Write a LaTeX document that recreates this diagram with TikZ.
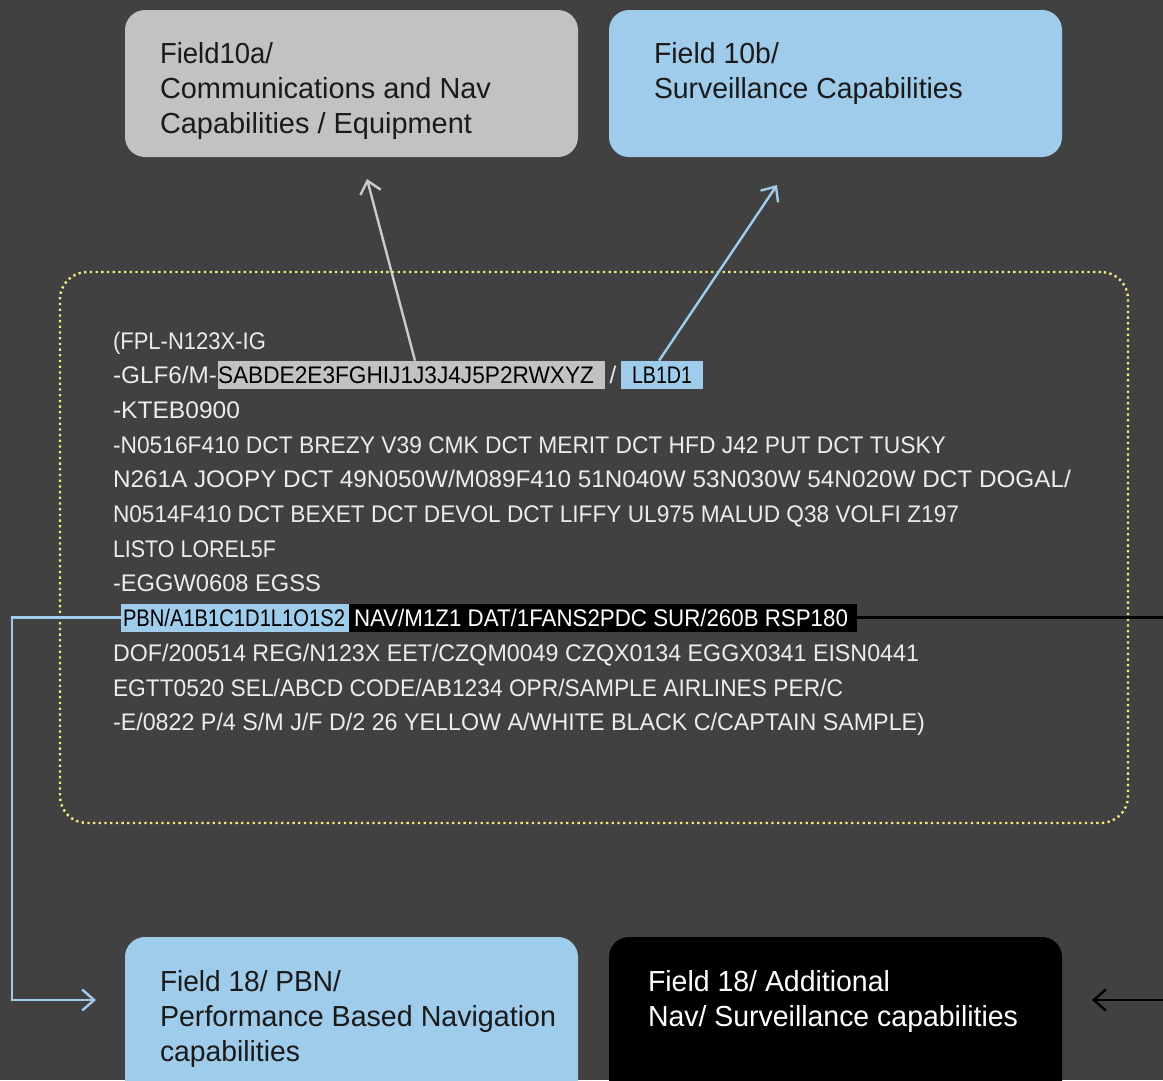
\documentclass[tikz,border=0pt]{standalone}
\usepackage{fontspec}
\setmainfont{Liberation Sans}
\usetikzlibrary{arrows.meta,calc}
\definecolor{bg}{RGB}{65,65,65}
\definecolor{boxgray}{RGB}{193,194,193}
\definecolor{boxblue}{RGB}{159,204,234}
\definecolor{txt}{RGB}{236,236,236}
\definecolor{dark}{RGB}{26,26,26}
\definecolor{dotyellow}{RGB}{245,234,125}
\definecolor{arrgray}{RGB}{204,204,204}
\newcommand\fw[2]{\resizebox{#1pt}{\height}{#2}}
\newcommand\pad[1]{\rule{#1pt}{0pt}}
\begin{document}
\begin{tikzpicture}[x=1pt,y=-1pt,
  every node/.style={inner sep=0pt, outer sep=0pt},
  fplline/.style={anchor=base west, text=txt, font=\fontsize{24}{28}\selectfont},
  hl/.style={anchor=base west, text height=18pt, text depth=0pt, inner xsep=0pt, inner ysep=5pt, font=\fontsize{24}{28}\selectfont},
  tbox/.style={anchor=north west, rounded corners=20pt, minimum width=453pt, minimum height=147pt},
  ttl/.style={anchor=base west, font=\fontsize{29}{35}\selectfont},
  conn/.style={line width=2.4pt, -{Straight Barb[length=12pt,width=21pt,line width=2.4pt]}},
]
\clip (0,0) rectangle (1163,1080);
\fill[bg] (0,0) rectangle (1163,1080);

% title boxes
\node[tbox, fill=boxgray] (b10a) at (125,10) {};
\node[tbox, fill=boxblue] (b10b) at (609,10) {};
\node[tbox, fill=boxblue, minimum height=180pt] (b18a) at (125,937) {};
\node[tbox, fill=black, minimum height=180pt] (b18b) at (609,937) {};

\node[ttl, text=dark] (t10a1) at (160,63.5) {\fw{113}{Field10a/}};
\node[ttl, text=dark] (t10a2) at (160,98.5) {\fw{331}{Communications and Nav}};
\node[ttl, text=dark] (t10a3) at (160,133.5) {\fw{312}{Capabilities / Equipment}};
\node[ttl, text=dark] (t10b1) at (654,63.5) {\fw{125}{Field 10b/}};
\node[ttl, text=dark] (t10b2) at (654,98.5) {\fw{309}{Surveillance Capabilities}};
\node[ttl, text=dark] (t18a1) at (160,991.5) {\fw{181}{Field 18/ PBN/}};
\node[ttl, text=dark] (t18a2) at (160,1026.5) {\fw{396}{Performance Based Navigation}};
\node[ttl, text=dark] (t18a3) at (160,1061.5) {\fw{140}{capabilities}};
\node[ttl, text=white] (t18b1) at (648,991.5) {\fw{242}{Field 18/ Additional}};
\node[ttl, text=white] (t18b2) at (648,1026.5) {\fw{370}{Nav/ Surveillance capabilities}};

% dotted frame
\node[draw=dotyellow, line width=2.4pt, dash pattern=on 2.3pt off 3.4pt,
      rounded corners=27pt, minimum width=1068pt, minimum height=551pt, anchor=north west] (frame) at (60,272) {};

% flight plan text
\node[fplline] (l1) at (113,349) {\fw{153}{(FPL-N123X-IG}};
\node[fplline] (l2a) at (113,383.7) {\fw{104}{-GLF6/M-}};
\node[hl, fill=boxgray, text=black] (f10a) at (218,383.7) {\fw{376}{SABDE2E3FGHIJ1J3J4J5P2RWXYZ}\pad{11}};
\node[fplline] (l2s) at (609.5,383.7) {/};
\node[hl, fill=boxblue, text=black] (f10b) at (621,383.7) {\pad{11}\fw{60}{LB1D1}\pad{11}};
\node[fplline] (l3) at (113,418.4) {\fw{127}{-KTEB0900}};
\node[fplline] (l4) at (113,453.1) {\fw{833}{-N0516F410 DCT BREZY V39 CMK DCT MERIT DCT HFD J42 PUT DCT TUSKY}};
\node[fplline] (l5) at (113,487.8) {\fw{958}{N261A JOOPY DCT 49N050W/M089F410 51N040W 53N030W 54N020W DCT DOGAL/}};
\node[fplline] (l6) at (113,522.5) {\fw{846}{N0514F410 DCT BEXET DCT DEVOL DCT LIFFY UL975 MALUD Q38 VOLFI Z197}};
\node[fplline] (l7) at (113,557.2) {\fw{163}{LISTO LOREL5F}};
\node[fplline] (l8) at (113,591.9) {\fw{208}{-EGGW0608 EGSS}};
\node[hl, fill=boxblue, text=black] (pbn) at (121,626.6) {\pad{2}\fw{222}{PBN/A1B1C1D1L1O1S2}\pad{4}};
\node[hl, fill=black, text=white] (nav) at (349,626.6) {\pad{5}\fw{494}{NAV/M1Z1 DAT/1FANS2PDC SUR/260B RSP180}\pad{9}};
\node[fplline] (l10) at (113,661.3) {\fw{806}{DOF/200514 REG/N123X EET/CZQM0049 CZQX0134 EGGX0341 EISN0441}};
\node[fplline] (l11) at (113,696.0) {\fw{730}{EGTT0520 SEL/ABCD CODE/AB1234 OPR/SAMPLE AIRLINES PER/C}};
\node[fplline] (l12) at (113,730.7) {\fw{812}{-E/0822 P/4 S/M J/F D/2 26 YELLOW A/WHITE BLACK C/CAPTAIN SAMPLE)}};

% connector end points
\coordinate (tip10a) at (367,179);
\coordinate (tip10b) at (777,185);
\coordinate (tip18a) at (96,1000);
\coordinate (tip18b) at (1092,1000);

% connectors
\draw[conn, arrgray] ([xshift=197pt]f10a.north west) -- (tip10a);
\draw[conn, boxblue] ([xshift=38pt]f10b.north west) -- (tip10b);
\draw[conn, boxblue] (pbn.west) -- ++(-109,0) |- (tip18a);
\draw[conn, black] (nav.east) -- ++(330,0) |- (tip18b);
\end{tikzpicture}
\end{document}
